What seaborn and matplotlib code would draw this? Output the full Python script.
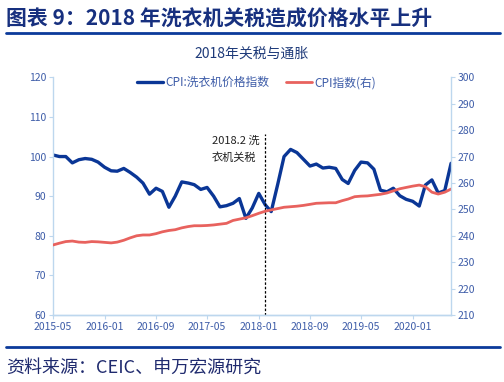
import pandas as pd
import numpy as np
import matplotlib
matplotlib.use("Agg")
import matplotlib.pyplot as plt
import matplotlib.dates as mdates
from matplotlib.lines import Line2D
import seaborn as sns

# data: monthly, 2015-05 .. 2020-07
start_month = "2015-05"
washer_cpi = [100.4, 100.0, 100.0, 98.4, 99.2, 99.5, 99.3, 98.6, 97.3, 96.4,
              96.3, 97.0, 96.0, 94.8, 93.3, 90.5, 92.0, 91.2, 87.2, 90.0,
              93.6, 93.3, 92.9, 91.7, 92.2, 90.0, 87.3, 87.6, 88.2, 89.4,
              84.4, 87.0, 90.7, 87.8, 86.1, 93.0, 100.0, 101.8, 101.0, 99.3,
              97.6, 98.1, 97.1, 97.3, 97.0, 94.2, 93.2, 96.5, 98.6, 98.4,
              96.8, 91.5, 91.1, 92.0, 90.1, 89.2, 88.7, 87.5, 92.8, 94.1,
              90.8, 91.4, 98.3]
cpi = [236.5, 237.2, 237.8, 238.0, 237.6, 237.5, 237.8, 237.7, 237.5, 237.3,
       237.6, 238.3, 239.2, 240.0, 240.3, 240.3, 240.8, 241.5, 242.0, 242.3,
       243.0, 243.5, 243.8, 243.8, 243.9, 244.1, 244.4, 244.7, 245.8, 246.3,
       246.8, 247.6, 248.5, 249.3, 249.8, 250.3, 250.8, 251.0, 251.2, 251.5,
       251.9, 252.3, 252.4, 252.5, 252.5, 253.3, 253.9, 254.8, 255.0, 255.1,
       255.4, 255.7, 256.2, 257.0, 257.8, 258.3, 258.8, 259.2, 258.6, 256.5,
       255.8, 256.5, 257.7]
tick_labels = ["2015-05", "2016-01", "2016-09", "2017-05",
               "2018-01", "2018-09", "2019-05", "2020-01"]
tariff_month = "2018-02"

df = pd.DataFrame({
    "month": pd.date_range(start_month, periods=len(cpi), freq="MS"),
    "washer": washer_cpi,
    "cpi": cpi,
})

sns.set_theme(style="white")
plt.rcParams["font.family"] = ["Noto Sans CJK SC", "DejaVu Sans"]
plt.rcParams["axes.unicode_minus"] = False

blue = "#0A3696"
red = "#E8625E"
tick_col = "#3D5CA8"
spine_col = "#BDD7EE"
navy = "#17307F"

fig = plt.figure(figsize=(5.04, 3.82), dpi=100)
ax = fig.add_axes([0.105, 0.1754, 0.79, 0.6222])
ax2 = ax.twinx()

sns.lineplot(data=df, x="month", y="washer", ax=ax, color=blue, lw=2.4,
             label="CPI:洗衣机价格指数", legend=False)
sns.lineplot(data=df, x="month", y="cpi", ax=ax2, color=red, lw=2.0,
             label="CPI指数(右)", legend=False)

ax.set_ylim(60, 120)
ax.set_yticks(range(60, 121, 10))
ax2.set_ylim(210, 300)
ax2.set_yticks(range(210, 301, 10))
ax.set_xlim(df["month"].iloc[0], df["month"].iloc[-1])
ax.set_xticks(pd.to_datetime(tick_labels))
ax.xaxis.set_major_formatter(mdates.DateFormatter("%Y-%m"))
ax.set_xlabel("")
ax.set_ylabel("")
ax2.set_ylabel("")

for a in (ax, ax2):
    a.spines["top"].set_visible(False)
    for side in ("left", "right", "bottom"):
        a.spines[side].set_color(spine_col)
        a.spines[side].set_linewidth(1.0)
    a.tick_params(colors=tick_col, labelsize=7.5, length=3, width=0.8)
    a.tick_params(axis="both", color=spine_col)
ax.spines["right"].set_visible(False)
ax2.spines["left"].set_visible(False)
ax.tick_params(axis="y", left=True, pad=2)
ax.tick_params(axis="x", bottom=True, pad=2)
ax2.tick_params(axis="y", right=True, pad=2)

# tariff marker
t = pd.Timestamp(tariff_month)
ax.plot([t, t], [60, 105.8], color="black", lw=0.9, ls=(0, (2, 1.5)))
ax.text(pd.Timestamp("2017-05-25"), 101.9, "2018.2 洗\n衣机关税", fontsize=8,
        color="#222222", ha="left", va="center", linespacing=1.7)

# legend
h1, l1 = ax.get_legend_handles_labels()
h2, l2 = ax2.get_legend_handles_labels()
ax.legend(h1 + h2, l1 + l2, loc="center", bbox_to_anchor=(0.512, 0.977),
          ncol=2, frameon=False, fontsize=8.5, handlelength=2.2,
          columnspacing=1.4, handletextpad=0.2, labelcolor=tick_col)

# titles and rules
fig.text(6 / 504, 1 - 19 / 382, "图表 9：2018 年洗衣机关税造成价格水平上升",
         fontsize=15, fontweight="bold", color=navy, ha="left", va="center")
fig.add_artist(Line2D([6 / 504, 500 / 504], [1 - 32.5 / 382] * 2,
                      color="#0B3A9A", lw=2))
fig.text(252 / 504, 1 - 53.5 / 382, "2018年关税与通胀", fontsize=10,
         color="#1F3B7A", ha="center", va="center")
fig.add_artist(Line2D([6 / 504, 500 / 504], [1 - 346.7 / 382] * 2,
                      color="#0B3A9A", lw=2))
fig.text(6 / 504, 1 - 368 / 382, "资料来源：CEIC、申万宏源研究",
         fontsize=13, color="#1F2A6E", ha="left", va="center")

fig.savefig("out.png", dpi=100)
